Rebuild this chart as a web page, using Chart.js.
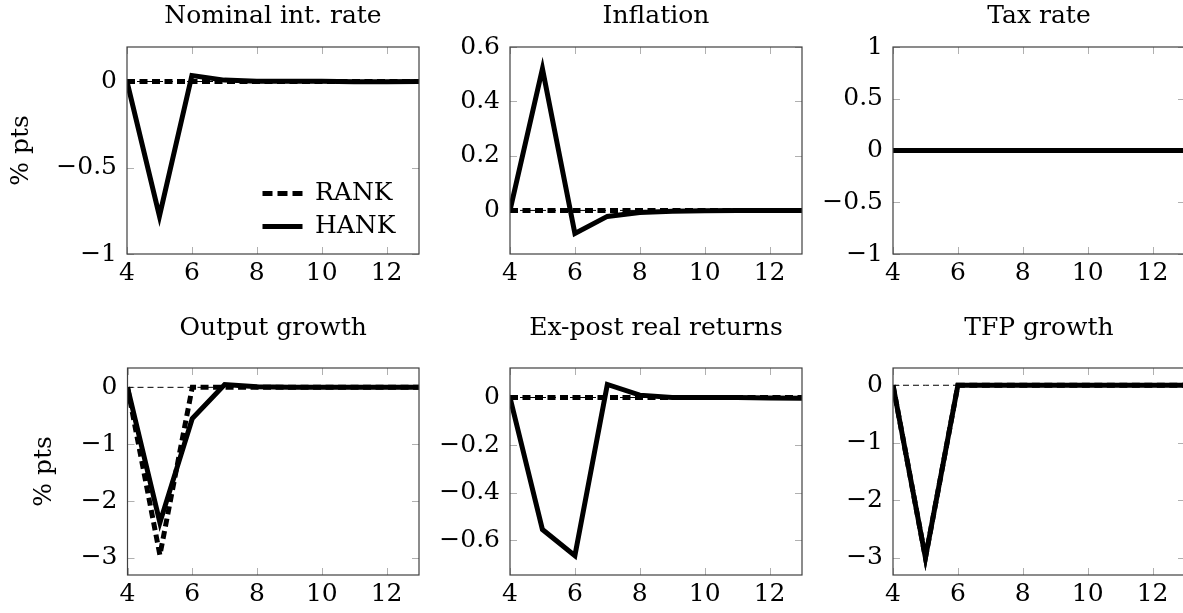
<!DOCTYPE html>
<html>
<head>
<meta charset="utf-8">
<script src="https://cdn.jsdelivr.net/npm/chart.js@4"></script>
<style>
  html, body { margin: 0; padding: 0; background: #fff; overflow: hidden; }
  body { width: 1183px; height: 613px; position: relative; }
  canvas { position: absolute; }
</style>
</head>
<body>
<canvas id="p0"></canvas>
<canvas id="p1"></canvas>
<canvas id="p2"></canvas>
<canvas id="p3"></canvas>
<canvas id="p4"></canvas>
<canvas id="p5"></canvas>
<script>
// horizon (quarters) and x tick labels
const periods = [4, 5, 6, 7, 8, 9, 10, 11, 12, 13];
const xTicks = [4, 6, 8, 10, 12];
const zeroLine = [0, 0, 0, 0, 0, 0, 0, 0, 0, 0];

// Nominal int. rate
const nomRANK = [0, 0, 0, 0, 0, 0, 0, 0, 0, 0];
const nomHANK = [0, -0.78, 0.035, 0.008, 0.001, 0.002, 0.001, -0.001, -0.001, 0];
const nomTicks = [-1, -0.5, 0];

// Inflation
const infRANK = [0, 0, 0, 0, 0, 0, 0, 0, 0, 0];
const infHANK = [0, 0.52, -0.085, -0.022, -0.008, -0.003, -0.001, 0, 0, 0];
const infTicks = [0, 0.2, 0.4, 0.6];

// Tax rate
const taxRANK = [0, 0, 0, 0, 0, 0, 0, 0, 0, 0];
const taxHANK = [0, 0, 0, 0, 0, 0, 0, 0, 0, 0];
const taxTicks = [-1, -0.5, 0, 0.5, 1];

// Output growth
const outRANK = [0, -2.95, 0, 0, 0, 0, 0, 0, 0, 0];
const outHANK = [0, -2.38, -0.55, 0.05, 0.01, 0, 0, 0, 0, 0];
const outTicks = [-3, -2, -1, 0];

// Ex-post real returns
const retRANK = [0, 0, 0, 0, 0, 0, 0, 0, 0, 0];
const retHANK = [0, -0.555, -0.665, 0.055, 0.01, 0, 0, 0, -0.002, -0.003];
const retTicks = [-0.6, -0.4, -0.2, 0];

// TFP growth
const tfpRANK = [0, -3.0, 0, 0, 0, 0, 0, 0, 0, 0];
const tfpHANK = [0, -3.0, 0, 0, 0, 0, 0, 0, 0, 0];
const tfpTicks = [-3, -2, -1, 0];

const panels = [
  { title: 'Nominal int. rate', rank: nomRANK, hank: nomHANK, min: -1, max: 0.2, ticks: nomTicks, yTitle: true, legend: true },
  { title: 'Inflation', rank: infRANK, hank: infHANK, min: -0.16, max: 0.6, ticks: infTicks },
  { title: 'Tax rate', rank: taxRANK, hank: taxHANK, min: -1, max: 1, ticks: taxTicks },
  { title: 'Output growth', rank: outRANK, hank: outHANK, min: -3.3, max: 0.34, ticks: outTicks, yTitle: true },
  { title: 'Ex-post real returns', rank: retRANK, hank: retHANK, min: -0.746, max: 0.124, ticks: retTicks },
  { title: 'TFP growth', rank: tfpRANK, hank: tfpHANK, min: -3.3, max: 0.3, ticks: tfpTicks }
];

// layout of the grid
const colLeft = [127, 510, 893];
const rowTop = [47, 368];
const plotW = 292, plotH = 207, xAxisH = 45, padRight = 6;
const titlePads = [{ top: 1, bottom: 16 }, { top: 0, bottom: 25 }];

Chart.defaults.font.family = '"DejaVu Serif", serif';
Chart.defaults.font.size = 25;
Chart.defaults.color = '#000';

const fmt = v => String(v).replace('-', '\u2212');
const pts = arr => arr.map((v, i) => ({ x: periods[i], y: v }));

// box around the plot and small inward tick marks (pgfplots look)
const frame = {
  id: 'frame',
  beforeDatasetsDraw(chart) {
    const { ctx, chartArea: a, scales: { x, y } } = chart;
    ctx.save();
    ctx.strokeStyle = '#b0b0b0';
    ctx.lineWidth = 1;
    ctx.beginPath();
    x.ticks.forEach(t => {
      const px = Math.round(x.getPixelForValue(t.value)) + 0.5;
      ctx.moveTo(px, a.top); ctx.lineTo(px, a.top + 7);
      ctx.moveTo(px, a.bottom); ctx.lineTo(px, a.bottom - 7);
    });
    y.ticks.forEach(t => {
      const py = Math.round(y.getPixelForValue(t.value)) + 0.5;
      ctx.moveTo(a.left, py); ctx.lineTo(a.left + 7, py);
      ctx.moveTo(a.right, py); ctx.lineTo(a.right - 7, py);
    });
    ctx.stroke();
    ctx.restore();
  },
  afterDatasetsDraw(chart) {
    const { ctx, chartArea: a } = chart;
    ctx.save();
    ctx.strokeStyle = '#404040';
    ctx.lineWidth = 1.2;
    ctx.strokeRect(a.left, a.top, a.right - a.left, a.bottom - a.top);
    ctx.restore();
  }
};

// put the legend in the lower right corner of the plot
const legendPlacer = {
  id: 'legendPlacer',
  afterLayout(chart) {
    if (!chart.options.plugins.legend.display) return;
    const lg = chart.legend, a = chart.chartArea;
    lg.left = a.right - 164.5;
    lg.right = a.right;
    lg.top = a.top;
    lg.bottom = a.bottom - 7;
    lg.width = lg.right - lg.left;
    lg.height = lg.bottom - lg.top;
  }
};

panels.forEach((p, i) => {
  const col = i % 3, row = Math.floor(i / 3);
  const canvasLeft = col === 0 ? (row === 0 ? 6 : 28.5) : colLeft[col] - 100;
  const yAxisW = colLeft[col] - canvasLeft;
  const tp = titlePads[row];
  const titleBlock = tp.top + 30 + tp.bottom;
  const canvas = document.getElementById('p' + i);
  canvas.width = yAxisW + plotW + padRight;
  canvas.height = titleBlock + plotH + xAxisH;
  canvas.style.left = canvasLeft + 'px';
  canvas.style.top = (rowTop[row] - titleBlock) + 'px';

  new Chart(canvas, {
    type: 'line',
    data: {
      datasets: [
        { label: '', data: pts(zeroLine), borderColor: '#000', borderWidth: 1, borderDash: [6, 4], order: 3 },
        { label: 'RANK', data: pts(p.rank), borderColor: '#000', backgroundColor: '#000', borderWidth: 5, borderDash: [8, 4.5], order: 2 },
        { label: 'HANK', data: pts(p.hank), borderColor: '#000', backgroundColor: '#000', borderWidth: 5, order: 1 }
      ]
    },
    options: {
      responsive: false,
      animation: false,
      events: [],
      layout: { padding: { left: 0, top: 0, right: padRight, bottom: 0 } },
      elements: {
        point: { radius: 0 },
        line: { tension: 0, borderCapStyle: 'butt', borderJoinStyle: 'miter', fill: false }
      },
      datasets: { line: { clip: 0 } },
      scales: {
        x: {
          type: 'linear',
          min: 4, max: 13,
          afterBuildTicks: axis => { axis.ticks = xTicks.map(v => ({ value: v })); },
          afterFit: axis => { axis.height = xAxisH; },
          ticks: { padding: 4, callback: fmt, maxRotation: 0, autoSkip: false },
          grid: { display: false, drawTicks: false },
          border: { display: false }
        },
        y: {
          type: 'linear',
          min: p.min, max: p.max,
          afterBuildTicks: axis => { axis.ticks = p.ticks.map(v => ({ value: v })); },
          afterFit: axis => { axis.width = yAxisW; },
          ticks: { padding: 10, callback: fmt, autoSkip: false },
          grid: { display: false, drawTicks: false },
          border: { display: false },
          title: { display: !!p.yTitle, text: '% pts', padding: 0 }
        }
      },
      plugins: {
        title: { display: true, text: p.title, fullSize: false, padding: tp, font: { weight: 'normal', size: 25 } },
        tooltip: { enabled: false },
        legend: {
          display: !!p.legend,
          position: 'chartArea',
          align: 'end',
          labels: {
            usePointStyle: true,
            pointStyleWidth: 40,
            padding: 8,
            generateLabels: chart => chart.data.datasets.slice(1).map((ds, k) => ({
              text: ds.label,
              fillStyle: ds.borderColor,
              strokeStyle: ds.borderColor,
              fontColor: '#000',
              lineWidth: ds.borderWidth,
              lineDash: [10, 5].slice(0, ds.borderDash ? 2 : 0),
              lineCap: 'butt',
              pointStyle: 'line',
              hidden: false,
              datasetIndex: k + 1
            }))
          }
        }
      }
    },
    plugins: [frame, legendPlacer]
  });
});
</script>
</body>
</html>
